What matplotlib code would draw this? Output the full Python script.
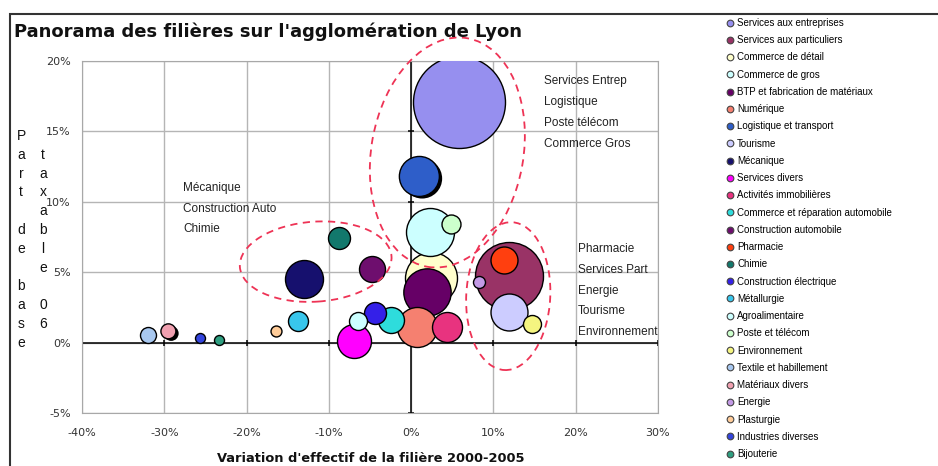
import matplotlib
matplotlib.use("Agg")
import matplotlib.pyplot as plt
import matplotlib.transforms as mtransforms
import matplotlib.patheffects as pe
from matplotlib.patches import Ellipse, Rectangle
from matplotlib.lines import Line2D

plt.rcParams['font.family'] = ['Liberation Sans', 'DejaVu Sans']

# Filières (ordre de la légende)
filieres = [
    "Services aux entreprises", "Services aux particuliers", "Commerce de détail",
    "Commerce de gros", "BTP et fabrication de matériaux", "Numérique",
    "Logistique et transport", "Tourisme", "Mécanique", "Services divers",
    "Activités immobilières", "Commerce et réparation automobile",
    "Construction automobile", "Pharmacie", "Chimie", "Construction électrique",
    "Métallurgie", "Agroalimentaire", "Poste et télécom", "Environnement",
    "Textile et habillement", "Matériaux divers", "Energie", "Plasturgie",
    "Industries diverses", "Bijouterie",
]
# variation d'effectif 2000-2005 (%)
variation = [5.8, 11.9, 2.4, 2.35, 1.95, 0.7, 1.0, 11.9, -13.0, -6.9,
             4.4, -2.5, -4.8, 11.3, -8.8, -4.4, -13.8, -6.5, 4.9, 14.7,
             -32.0, -29.5, 8.2, -16.4, -25.6, -23.4]
# part de base taxable 06 (%)
part_base = [17.1, 4.75, 4.6, 7.85, 3.6, 1.1, 11.8, 2.2, 4.5, 0.1,
             1.1, 1.6, 5.2, 5.9, 7.4, 2.1, 1.5, 1.5, 8.4, 1.35,
             0.55, 0.8, 4.3, 0.8, 0.35, 0.15]
# poids de la bulle
poids = [2116, 1156, 676, 576, 560, 400, 400, 342, 361, 289,
         225, 169, 169, 182, 121, 121, 100, 81, 90, 81,
         64, 56, 36, 30, 25, 25]
couleurs = ["#968FEF", "#993366", "#FFFFCC", "#CCFFFF", "#660066", "#F58070",
            "#2E5EC9", "#CCCCFF", "#16106E", "#FF00FF", "#E8337F", "#2EDCDC",
            "#6E0E6E", "#FF3F0F", "#12786C", "#3420E8", "#38C6EC", "#CCFFFF",
            "#CCFFCC", "#F5F580", "#A8C8F0", "#F0A0B0", "#C39AE6", "#FFCC99",
            "#3344DD", "#2E9E80"]
ombrees = ["Logistique et transport", "Matériaux divers"]

x_ticks = [-40, -30, -20, -10, 0, 10, 20, 30]
y_ticks = [-5, 0, 5, 10, 15, 20]

# regroupements (centre en %, largeur/hauteur en pixels, angle)
groupes = [(-11.6, 5.75, 152, 80, 4),
           (4.4, 13.5, 152, 232, -10),
           (11.8, 3.3, 84, 148, -3)]
notes = [(-27.7, 11.0, ["Mécanique", "Construction Auto", "Chimie"]),
         (16.2, 18.55, ["Services Entrep", "Logistique", "Poste télécom", "Commerce Gros"]),
         (20.3, 6.65, ["Pharmacie", "Services Part", "Energie", "Tourisme", "Environnement"])]

fig = plt.figure(figsize=(9.38, 4.66), dpi=100)
ax = fig.add_axes([82 / 938, 1 - 413 / 466, 576 / 938, 352 / 466])

ax.set_xlim(-40, 30)
ax.set_ylim(-5, 20)
ax.set_xticks(x_ticks)
ax.set_yticks(y_ticks)
ax.set_xticklabels([f"{t}%" for t in x_ticks], fontsize=8, color="#333333", family="DejaVu Sans")
ax.set_yticklabels([f"{t}%" for t in y_ticks], fontsize=8, color="#333333", family="DejaVu Sans")
ax.tick_params(length=0, pad=8)
ax.tick_params(axis="x", pad=10.5)
ax.grid(True, color="#B5B5B5", lw=1)
ax.set_axisbelow(True)
for s in ax.spines.values():
    s.set_color("#A8A8A8")

ax.axhline(0, color="black", lw=1.1, zorder=1.5)
ax.axvline(0, color="black", lw=1.1, zorder=1.5)
ax.plot(x_ticks, [0] * len(x_ticks), ls="", marker="|", ms=5, mew=1.1, color="black", zorder=1.5)
ax.plot([0] * len(y_ticks), y_ticks, ls="", marker="_", ms=5, mew=1.1, color="black", zorder=1.5)

handles = []
for i, nom in enumerate(filieres):
    sc = ax.scatter(variation[i], part_base[i], s=poids[i] * 2.0736,
                    color=couleurs[i], edgecolors="black", linewidths=1, zorder=3 + i * 0.01)
    if nom in ombrees:
        sc.set_path_effects([pe.SimplePatchShadow(offset=(2, -1.5), shadow_rgbFace="black", alpha=1),
                             pe.Normal()])
    handles.append(Line2D([], [], ls="", marker="o", ms=4.8, markerfacecolor=couleurs[i],
                          markeredgecolor="#444444", markeredgewidth=0.8, label=nom))

for cx, cy, w, h, ang in groupes:
    tr = fig.dpi_scale_trans + mtransforms.ScaledTranslation(cx, cy, ax.transData)
    ax.add_artist(Ellipse((0, 0), w / 100, h / 100, angle=ang, transform=tr, fill=False,
                          ec="#EE3355", lw=1.3, ls=(0, (4, 3)), zorder=10, clip_on=False))

for nx, ny, lignes in notes:
    for k, txt in enumerate(lignes):
        ax.annotate(txt, (nx, ny), xytext=(0, -k * 15), textcoords="offset points",
                    fontsize=8.5, color="#222222", va="center", ha="left", zorder=11)

fig.text(14 / 938, 1 - 37 / 466, "Panorama des filières sur l'agglomération de Lyon",
         fontsize=13, fontweight="bold", va="baseline", ha="left", color="#111111",
         family="DejaVu Sans")
fig.text(371 / 938, 1 - 458 / 466, "Variation d'effectif de la filière 2000-2005",
         fontsize=9.4, fontweight="bold", va="center", ha="center", color="#111111",
         family="DejaVu Sans")

# titre vertical empilé sur deux colonnes
for col, (xp, mot) in enumerate([(21, "Part de base"), (43, " taxable 06")]):
    for k, ch in enumerate(mot):
        fig.text(xp / 938, 1 - (136 + k * 18.8) / 466, ch, fontsize=10,
                 va="center", ha="center", color="#111111")

fig.legend(handles=handles, loc="upper left", bbox_to_anchor=(726 / 938, 1 - 18 / 466),
           frameon=False, fontsize=7, labelspacing=0.745, handlelength=0.8,
           handletextpad=0.35, borderaxespad=0, borderpad=0)

fig.add_artist(Rectangle((10 / 938, -0.1), 1.0, 1.1 - 14 / 466, transform=fig.transFigure,
                         fill=False, ec="#333333", lw=1.5, clip_on=False))

fig.savefig("out.png", dpi=100)
